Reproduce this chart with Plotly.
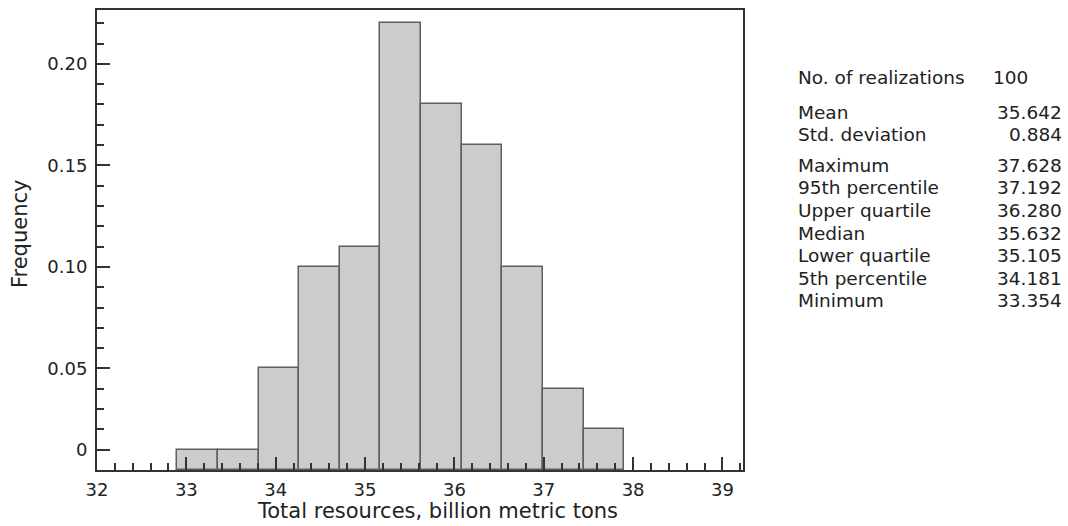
import plotly.graph_objects as go

# Data
frequencies = [0.01, 0.01, 0.05, 0.10, 0.11, 0.22, 0.18, 0.16, 0.10, 0.04, 0.02]
bin_start = 32.9
bin_end = 37.9
y_tick_vals = [0.01, 0.05, 0.10, 0.15, 0.20]
y_tick_text = ["0", "0.05", "0.10", "0.15", "0.20"]
x_tick_vals = [32, 33, 34, 35, 36, 37, 38, 39]
stat_labels = ["Mean", "Std. deviation", "Maximum", "95th percentile", "Upper quartile",
               "Median", "Lower quartile", "5th percentile", "Minimum"]
stat_values = ["35.642", "0.884", "37.628", "37.192", "36.280", "35.632", "35.105", "34.181", "33.354"]
n_realizations = "100"

n = len(frequencies)
bw = (bin_end - bin_start) / n
centers = [bin_start + bw * (i + 0.5) for i in range(n)]

FONT = "DejaVu Sans"
TXT = "#222"
fig = go.Figure()
fig.add_trace(go.Bar(
    x=centers, y=frequencies, width=[bw] * n,
    marker=dict(color="#cccccc", line=dict(color="#5f5f5f", width=1.5)),
    showlegend=False, hoverinfo="skip"
))

L, R, T, B = 97, 325, 8, 56
W, H = 1068, 526
pw, ph = W - L - R, H - T - B

fig.update_layout(
    width=W, height=H,
    margin=dict(l=L, r=R, t=T, b=B),
    plot_bgcolor="white", paper_bgcolor="white",
    font=dict(family=FONT, size=18, color=TXT),
    bargap=0,
    xaxis=dict(
        range=[32, 39.23], tickmode="array", tickvals=x_tick_vals,
        ticks="inside", ticklen=13, tickwidth=1.5, tickcolor="#333",
        showline=True, linecolor="#333", linewidth=2, mirror=True,
        showgrid=False, zeroline=False,
        tickfont=dict(size=18), ticklabelstandoff=2,
        minor=dict(ticks="inside", ticklen=7, tickwidth=1.5, tickcolor="#333",
                   tick0=32, dtick=0.2, showgrid=False),
    ),
    yaxis=dict(
        range=[0, 0.2265], tickmode="array", tickvals=y_tick_vals, ticktext=y_tick_text,
        ticks="inside", ticklen=13, tickwidth=1.5, tickcolor="#333",
        showline=True, linecolor="#333", linewidth=2, mirror=True,
        showgrid=False, zeroline=False,
        tickfont=dict(size=18), ticklabelstandoff=4,
        minor=dict(ticks="inside", ticklen=7, tickwidth=1.5, tickcolor="#333",
                   tick0=0, dtick=0.01, showgrid=False),
    ),
)

def px_x(p):
    return (p - L) / pw

def px_y(p):
    return (H - B - p) / ph

anns = []
anns.append(dict(text="Total resources, billion metric tons", x=px_x(437), y=px_y(511),
                 xanchor="center", font_size=21))
anns.append(dict(text="Frequency", x=px_x(20), y=px_y(233), xanchor="center",
                 textangle=-90, font_size=21))
anns.append(dict(text="No. of realizations", x=px_x(796), y=px_y(76), xanchor="left"))
anns.append(dict(text=n_realizations, x=px_x(991), y=px_y(76), xanchor="left"))
rows_y = [111, 133] + [164 + 22.7 * i for i in range(7)]
for lab, val, yy in zip(stat_labels, stat_values, rows_y):
    anns.append(dict(text=lab, x=px_x(796), y=px_y(yy), xanchor="left"))
    anns.append(dict(text=val, x=px_x(1064), y=px_y(yy), xanchor="right"))
for a in anns:
    size = a.pop("font_size", 18.5)
    a.update(xref="paper", yref="paper", yanchor="middle", showarrow=False,
             font=dict(family=FONT, size=size, color=TXT))
fig.update_layout(annotations=anns)

fig.write_html("out.html", config={"displayModeBar": False},
               post_script="document.body.style.margin='0';")
